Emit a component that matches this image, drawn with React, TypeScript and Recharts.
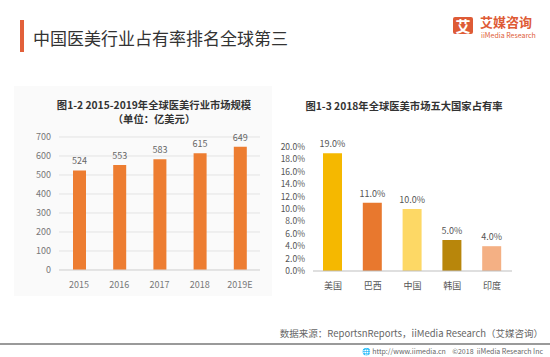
import { Bar, BarChart, CartesianGrid, Cell, LabelList, XAxis, YAxis } from "recharts";

const marketYears = ["2015", "2016", "2017", "2018", "2019E"];
const marketSize = [524, 553, 583, 615, 649];
const marketTicks = [0, 100, 200, 300, 400, 500, 600, 700];

const countries = ["美国", "巴西", "中国", "韩国", "印度"];
const countryShare = [19.0, 11.0, 10.0, 5.0, 4.0];
const countryColors = ["#F5B800", "#E8782E", "#FDD865", "#B8860B", "#F4B084"];
const shareTicks = [0, 2, 4, 6, 8, 10, 12, 14, 16, 18, 20];

const font = '"Noto Sans CJK SC", "Noto Sans", sans-serif';
const tickStyle = { fill: "#777", fontSize: 9, fontFamily: font };

export default function App() {
  const marketData = marketYears.map((year, i) => ({ year, value: marketSize[i] }));
  const shareData = countries.map((name, i) => ({ name, value: countryShare[i] }));

  return (
    <div
      style={{
        position: "absolute",
        left: 0,
        top: 0,
        width: 550,
        height: 357,
        background: "#fff",
        overflow: "hidden",
        fontFamily: font,
      }}
    >
      {/* header */}
      <div style={{ position: "absolute", left: 20, top: 20, width: 4, height: 32, background: "#E2603A" }} />
      <div style={{ position: "absolute", left: 33, top: 26, fontSize: 17, color: "#333", lineHeight: "24px" }}>
        中国医美行业占有率排名全球第三
      </div>
      <div
        style={{
          position: "absolute",
          left: 453,
          top: 17,
          width: 20,
          height: 17,
          background: "#DE5B36",
          borderRadius: 2,
          color: "#fff",
          fontSize: 15,
          fontWeight: 700,
          lineHeight: "17px",
          textAlign: "center",
        }}
      >
        艾
      </div>
      <div style={{ position: "absolute", left: 480, top: 14, fontSize: 13, color: "#DE5B36", lineHeight: "16px", fontWeight: 700 }}>
        艾媒咨询
      </div>
      <div style={{ position: "absolute", left: 481, top: 31, fontSize: 7, color: "#DE5B36", lineHeight: "9px" }}>
        iiMedia Research
      </div>

      {/* left panel */}
      <div style={{ position: "absolute", left: 14, top: 86, width: 258, height: 210, background: "#fafafa" }} />
      <div
        style={{
          position: "absolute",
          left: 40,
          top: 97,
          width: 228,
          textAlign: "center",
          fontSize: 10.3,
          fontWeight: 700,
          color: "#333",
          lineHeight: "15px",
        }}
      >
        图1-2 2015-2019年全球医美行业市场规模
      </div>
      <div
        style={{
          position: "absolute",
          left: 40,
          top: 111,
          width: 228,
          textAlign: "center",
          fontSize: 10.3,
          fontWeight: 700,
          color: "#333",
          lineHeight: "15px",
        }}
      >
        （单位：亿美元）
      </div>
      <div style={{ position: "absolute", left: 0, top: 80 }}>
        <BarChart width={270} height={220} data={marketData} margin={{ top: 57, right: 10, bottom: 0, left: 0 }}>
          <CartesianGrid vertical={false} stroke="#e3e3e3" />
          <XAxis
            dataKey="year"
            height={30}
            axisLine={{ stroke: "#d9d9d9" }}
            tickLine={false}
            tick={tickStyle}
            tickMargin={6}
          />
          <YAxis
            width={59}
            domain={[0, 700]}
            ticks={marketTicks}
            interval={0}
            axisLine={false}
            tickLine={false}
            tick={tickStyle}
          />
          <Bar dataKey="value" fill="#ED7D31" barSize={13} isAnimationActive={false}>
            <LabelList dataKey="value" position="top" offset={6} style={{ fill: "#666", fontSize: 9, fontFamily: font }} />
          </Bar>
        </BarChart>
      </div>

      {/* right panel */}
      <div
        style={{
          position: "absolute",
          left: 290,
          top: 99,
          width: 228,
          textAlign: "center",
          fontSize: 10.3,
          fontWeight: 700,
          color: "#333",
          lineHeight: "13px",
        }}
      >
        图1-3 2018年全球医美市场五大国家占有率
      </div>
      <div style={{ position: "absolute", left: 270, top: 80 }}>
        <BarChart width={280} height={220} data={shareData} margin={{ top: 67, right: 38, bottom: 0, left: 0 }}>
          <XAxis
            dataKey="name"
            height={29}
            axisLine={{ stroke: "#bfbfbf" }}
            tickLine={false}
            tick={{ ...tickStyle, fill: "#555" }}
            tickMargin={6}
          />
          <YAxis
            width={43}
            domain={[0, 20]}
            ticks={shareTicks}
            interval={0}
            axisLine={false}
            tickLine={false}
            tick={{ ...tickStyle, fontSize: 8.5, fill: "#555" }}
            tickFormatter={(v) => `${Number(v).toFixed(1)}%`}
          />
          <Bar dataKey="value" barSize={19} isAnimationActive={false}>
            {shareData.map((d, i) => (
              <Cell key={d.name} fill={countryColors[i]} />
            ))}
            <LabelList
              dataKey="value"
              position="top"
              offset={6}
              formatter={(v) => `${Number(v).toFixed(1)}%`}
              style={{ fill: "#555", fontSize: 9, fontFamily: font }}
            />
          </Bar>
        </BarChart>
      </div>

      {/* footer */}
      <div
        style={{
          position: "absolute",
          right: 7,
          top: 327,
          fontSize: 9.5,
          color: "#666",
          lineHeight: "13px",
          whiteSpace: "nowrap",
        }}
      >
        数据来源：ReportsnReports，iiMedia Research（艾媒咨询）
      </div>
      <div style={{ position: "absolute", left: 0, top: 343, width: 550, height: 1.5, background: "#9a9a9a" }} />
      <div
        style={{
          position: "absolute",
          right: 7,
          top: 346,
          fontSize: 7,
          color: "#666",
          lineHeight: "10px",
          whiteSpace: "nowrap",
        }}
      >
        🌐 http://www.iimedia.cn&nbsp;&nbsp;&nbsp;&nbsp;©2018&nbsp;&nbsp;iiMedia Research Inc
      </div>
    </div>
  );
}
